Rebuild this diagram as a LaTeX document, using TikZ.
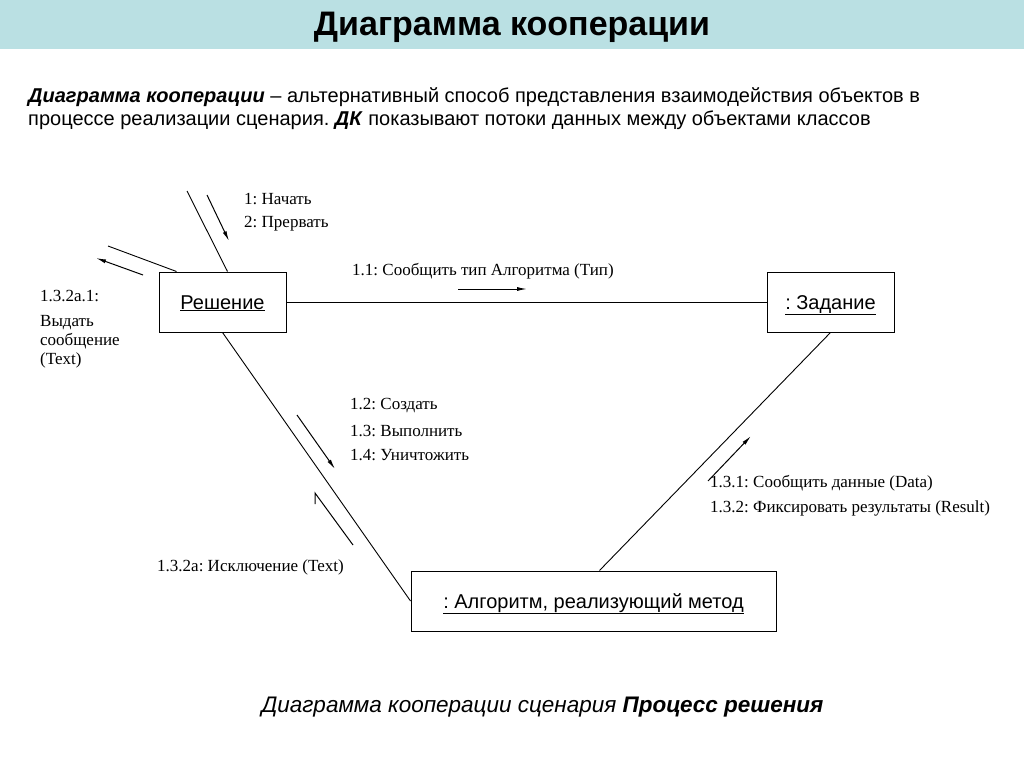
\documentclass[tikz,border=0pt]{standalone}
\usepackage{fontspec}
\setmainfont{Liberation Serif}
\setsansfont{Liberation Sans}
\usetikzlibrary{arrows.meta, calc}
\frenchspacing
\definecolor{kdBand}{HTML}{BAE0E3}
\tikzset{
  kd-obj/.style={
    rectangle, draw=black, fill=white, line width=1pt,
    minimum height=60pt, inner sep=0pt, align=center,
    text height=15pt, text depth=1pt,
    font=\sffamily\fontsize{20}{24}\selectfont
  },
  kd-msg/.style={anchor=west, inner sep=0pt, font=\fontsize{17}{20}\selectfont},
  kd-text/.style={anchor=west, inner sep=0pt, font=\sffamily\fontsize{20}{24}\selectfont},
  kd-link/.style={line width=0.9pt},
  kd-flow/.style={-{Latex[length=10pt,width=4pt]}, line width=1pt},
}

\begin{document}
\begin{tikzpicture}[x=1pt, y=-1pt]
  \useasboundingbox (0,0) rectangle (1024,767);
  \fill[kdBand] (0,0) rectangle (1024,49);
  \node[font=\sffamily\bfseries\fontsize{34}{38}\selectfont] (title) at (512,27) {Диаграмма кооперации};

  % definition text
  \node[kd-text] (def1) at (28,97) {\textbf{\textit{Диаграмма кооперации}} – альтернативный способ представления взаимодействия объектов в};
  \node[kd-text] (def2) at (28,120) {процессе реализации сценария. \textbf{\textit{ДК}} показывают потоки данных между объектами классов};

  % objects
  \node[kd-obj, minimum width=127pt] (res) at (222.5,302) {\underline{Решение}};
  \node[kd-obj, minimum width=127pt] (zad) at (830.5,302) {\underline{: Задание}};
  \node[kd-obj, minimum width=365pt] (alg) at (593.5,601) {\underline{: Алгоритм, реализующий метод}};

  % links
  \coordinate (inTop) at (187,191);
  \coordinate (inLeft) at (108,246);
  \draw[kd-link] (inTop) -- ($(res.north)+(5,0)$);
  \draw[kd-link] (inLeft) -- ($(res.north west)+(18,0)$);
  \draw[kd-link] (res.east) -- (zad.west);
  \draw[kd-link] (res.south) -- (alg.west);
  \draw[kd-link] (zad.south) -- ($(alg.north)+(6,0)$);

  % messages
  \draw[kd-flow] (207,195) -- (229,241);
  \node[kd-msg] (m1) at (244,199) {1: Начать};
  \node[kd-msg] (m2) at (244,224) {2: Прервать};

  \draw[kd-flow] (143,275) -- (96,258);
  \node[kd-msg] (m3) at (40,296) {1.3.2a.1:};
  \node[kd-msg, align=left, font=\fontsize{17}{19}\selectfont] (m4) at (40,342) {Выдать\\сообщение\\(Text)};

  \draw[kd-flow] (458,289) -- (527,289);
  \node[kd-msg] (m5) at (352,271) {1.1: Сообщить тип Алгоритма (Тип)};

  \draw[kd-flow] (297,415) -- (335,469);
  \node[kd-msg] (m6) at (350,406) {1.2: Создать};
  \node[kd-msg] (m7) at (350,431) {1.3: Выполнить};
  \node[kd-msg] (m8) at (350,455) {1.4: Уничтожить};

  \draw[line width=1pt] (353,545) -- (315,493) -- (315,504);
  \node[kd-msg] (m9) at (157,567) {1.3.2a: Исключение (Text)};

  \draw[kd-flow] (708,481) -- (751,436);
  \node[kd-msg] (m10) at (710,483) {1.3.1: Сообщить данные (Data)};
  \node[kd-msg] (m11) at (710,508) {1.3.2: Фиксировать результаты (Result)};

  % caption
  \node[font=\sffamily\itshape\fontsize{22.5}{26}\selectfont] (cap) at (542.5,707) {Диаграмма кооперации сценария \textbf{Процесс решения}};
\end{tikzpicture}
\end{document}
